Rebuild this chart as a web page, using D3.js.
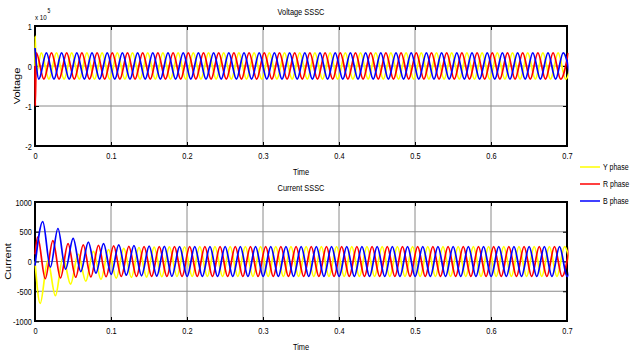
<!DOCTYPE html>
<html>
<head>
<meta charset="utf-8">
<script src="https://cdn.jsdelivr.net/npm/d3@7"></script>
<style>
  body { margin: 0; background: #fff; }
  svg { display: block; }
  text { font-family: "Liberation Sans", Arial, sans-serif; fill: #000; }
</style>
</head>
<body>
<script>
// ---- data ----
const xTicks = [0, 0.1, 0.2, 0.3, 0.4, 0.5, 0.6, 0.7];
const xTickLabels = ["0", "0.1", "0.2", "0.3", "0.4", "0.5", "0.6", "0.7"];
const voltTicks = [-2, -1, 0, 1];
const voltTickLabels = ["-2", "-1", "0", "1"];
const currTicks = [-1000, -500, 0, 500, 1000];
const currTickLabels = ["-1000", "-500", "0", "500", "1000"];

const phases = ["Y phase", "R phase", "B phase"];
const phaseColors = ["#ffff00", "#ff0000", "#0000ff"];

// extrema of each wave, one every half cycle (50 Hz)
const halfCycle = 0.01;

// voltage, x 10^5
const voltStartY = [[0, 0], [0.0003, 0.75], [0.0015, -0.2]];
const voltFirstY = 0.0083;
const voltPeaksY = [
  0.33, -0.33, 0.33, -0.33, 0.33, -0.33, 0.33, -0.33, 0.33, -0.33,
  0.33, -0.33, 0.33, -0.33, 0.33, -0.33, 0.33, -0.33, 0.33, -0.33,
  0.33, -0.33, 0.33, -0.33, 0.33, -0.33, 0.33, -0.33, 0.33, -0.33,
  0.33, -0.33, 0.33, -0.33, 0.33, -0.33, 0.33, -0.33, 0.33, -0.33,
  0.33, -0.33, 0.33, -0.33, 0.33, -0.33, 0.33, -0.33, 0.33, -0.33,
  0.33, -0.33, 0.33, -0.33, 0.33, -0.33, 0.33, -0.33, 0.33, -0.33,
  0.33, -0.33, 0.33, -0.33, 0.33, -0.33, 0.33, -0.33, 0.33, -0.33,
  0.33
];
const voltStartR = [[0, 0], [0.0004, -1.0]];
const voltFirstR = 0.0017;
const voltPeaksR = [
  0.33, -0.33, 0.33, -0.33, 0.33, -0.33, 0.33, -0.33, 0.33, -0.33,
  0.33, -0.33, 0.33, -0.33, 0.33, -0.33, 0.33, -0.33, 0.33, -0.33,
  0.33, -0.33, 0.33, -0.33, 0.33, -0.33, 0.33, -0.33, 0.33, -0.33,
  0.33, -0.33, 0.33, -0.33, 0.33, -0.33, 0.33, -0.33, 0.33, -0.33,
  0.33, -0.33, 0.33, -0.33, 0.33, -0.33, 0.33, -0.33, 0.33, -0.33,
  0.33, -0.33, 0.33, -0.33, 0.33, -0.33, 0.33, -0.33, 0.33, -0.33,
  0.33, -0.33, 0.33, -0.33, 0.33, -0.33, 0.33, -0.33, 0.33, -0.33,
  0.33
];
const voltStartB = [[0, 0.45]];
const voltFirstB = 0.005;
const voltPeaksB = [
  -0.33, 0.33, -0.33, 0.33, -0.33, 0.33, -0.33, 0.33, -0.33, 0.33,
  -0.33, 0.33, -0.33, 0.33, -0.33, 0.33, -0.33, 0.33, -0.33, 0.33,
  -0.33, 0.33, -0.33, 0.33, -0.33, 0.33, -0.33, 0.33, -0.33, 0.33,
  -0.33, 0.33, -0.33, 0.33, -0.33, 0.33, -0.33, 0.33, -0.33, 0.33,
  -0.33, 0.33, -0.33, 0.33, -0.33, 0.33, -0.33, 0.33, -0.33, 0.33,
  -0.33, 0.33, -0.33, 0.33, -0.33, 0.33, -0.33, 0.33, -0.33, 0.33,
  -0.33, 0.33, -0.33, 0.33, -0.33, 0.33, -0.33, 0.33, -0.33, 0.33,
  -0.33
];

// current
const currStartY = [[0, 0]];
const currFirstY = 0.0068;
const currPeaksY = [
  -705, 15, -575, 70, -380, 125, -330, 170, -300, 200,
  -280, 220, -268, 235, -260, 242, -255, 246, -252, 248,
  -250, 250, -250, 250, -250, 250, -250, 250, -250, 250,
  -250, 250, -250, 250, -250, 250, -250, 250, -250, 250,
  -250, 250, -250, 250, -250, 250, -250, 250, -250, 250,
  -250, 250, -250, 250, -250, 250, -250, 250, -250, 250,
  -250, 250, -250, 250, -250, 250, -250, 250, -250, 250,
  -250
];
const currStartR = [[0, 120]];
const currFirstR = 0.0035;
const currPeaksR = [
  410, -290, 350, -275, 300, -265, 280, -258, 270, -255,
  262, -252, 255, -250, 250, -250, 250, -250, 250, -250,
  250, -250, 250, -250, 250, -250, 250, -250, 250, -250,
  250, -250, 250, -250, 250, -250, 250, -250, 250, -250,
  250, -250, 250, -250, 250, -250, 250, -250, 250, -250,
  250, -250, 250, -250, 250, -250, 250, -250, 250, -250,
  250, -250, 250, -250, 250, -250, 250, -250, 250, -250,
  250
];
const currStartB = [[0, -70]];
const currFirstB = 0.0102;
const currPeaksB = [
  670, -95, 555, -130, 390, -170, 325, -195, 300, -215,
  280, -230, 268, -240, 258, -245, 254, -248, 250, -250,
  250, -250, 250, -250, 250, -250, 250, -250, 250, -250,
  250, -250, 250, -250, 250, -250, 250, -250, 250, -250,
  250, -250, 250, -250, 250, -250, 250, -250, 250, -250,
  250, -250, 250, -250, 250, -250, 250, -250, 250, -250,
  250, -250, 250, -250, 250, -250, 250, -250, 250, -250,
  250
];

// ---- layout ----
const width = 631, height = 353;
const left = 35, right = 567;
const squeeze = 0.78;   // the picture's text is narrow

const svg = d3.select("body").append("svg")
  .attr("width", width)
  .attr("height", height);

svg.append("rect").attr("width", width).attr("height", height).attr("fill", "#fff");

const x = d3.scaleLinear().domain([0, 0.7]).range([left, right]);

function label(g, px, py, s, size, anchor, vertical) {
  const tf = vertical
    ? `translate(${px},${py}) rotate(-90) scale(1,${squeeze})`
    : `translate(${px},${py}) scale(${squeeze},1)`;
  g.append("text")
    .attr("transform", tf)
    .attr("text-anchor", anchor)
    .attr("font-size", size)
    .text(s);
}

function toPoints(start, first, peaks) {
  return start.concat(peaks.map((v, i) => [first + i * halfCycle, v]));
}

function panel(opt) {
  const g = svg.append("g");
  const y = d3.scaleLinear().domain(opt.domain).range([opt.bottom, opt.top]);
  const h = opt.bottom - opt.top;

  // grid
  g.selectAll(".gx").data(xTicks).join("line")
    .attr("x1", d => x(d)).attr("x2", d => x(d))
    .attr("y1", opt.top).attr("y2", opt.bottom)
    .attr("stroke", "#8a8a8a").attr("stroke-width", 1);
  g.selectAll(".gy").data(opt.ticks).join("line")
    .attr("x1", left).attr("x2", right)
    .attr("y1", d => y(d)).attr("y2", d => y(d))
    .attr("stroke", "#8a8a8a").attr("stroke-width", 1);

  // box
  g.append("rect")
    .attr("x", left).attr("y", opt.top)
    .attr("width", right - left).attr("height", h)
    .attr("fill", "none").attr("stroke", "#000").attr("stroke-width", 2);

  // ticks, pointing inwards on all four sides
  const bottomAxis = g.append("g")
    .attr("transform", `translate(0,${opt.bottom})`)
    .call(d3.axisBottom(x).tickValues(xTicks)
      .tickFormat((d, i) => xTickLabels[i])
      .tickSize(-4).tickSizeOuter(0).tickPadding(6));
  const leftAxis = g.append("g")
    .attr("transform", `translate(${left},0)`)
    .call(d3.axisLeft(y).tickValues(opt.ticks)
      .tickFormat((d, i) => opt.tickLabels[i])
      .tickSize(-4).tickSizeOuter(0).tickPadding(4));
  g.append("g")
    .attr("transform", `translate(0,${opt.top})`)
    .call(d3.axisTop(x).tickValues(xTicks).tickFormat("")
      .tickSize(-4).tickSizeOuter(0));
  g.append("g")
    .attr("transform", `translate(${right},0)`)
    .call(d3.axisRight(y).tickValues(opt.ticks).tickFormat("")
      .tickSize(-4).tickSizeOuter(0));
  g.selectAll(".domain").remove();
  g.selectAll(".tick line").attr("stroke", "#000");
  [bottomAxis, leftAxis].forEach(a => {
    a.attr("font-family", null).attr("font-size", null);
    a.selectAll("text")
      .attr("font-size", 9.5)
      .attr("transform", `scale(${squeeze},1)`);
  });

  // titles
  label(g, (left + right) / 2, opt.top - 11, opt.title, 9.5, "middle", false);
  label(g, (left + right) / 2, opt.bottom + 29, "Time", 9.5, "middle", false);
  label(g, opt.ylabelX, (opt.top + opt.bottom) / 2, opt.ylabel, 11, "middle", true);

  // waves
  const clipId = "clip-" + opt.ylabel;
  svg.append("clipPath").attr("id", clipId)
    .append("rect")
    .attr("x", left - 1.5).attr("y", opt.top - 1)
    .attr("width", right - left + 3).attr("height", h + 2);

  const line = d3.line()
    .x(d => x(d[0]))
    .y(d => y(d[1]))
    .curve(d3.curveMonotoneX);

  g.append("g").attr("clip-path", `url(#${clipId})`)
    .selectAll("path")
    .data(opt.series)
    .join("path")
    .attr("d", d => line(d))
    .attr("fill", "none")
    .attr("stroke", (d, i) => phaseColors[i])
    .attr("stroke-width", 1.7);

  return g;
}

const voltPanel = panel({
  domain: [-2, 1], top: 26, bottom: 146,
  ticks: voltTicks, tickLabels: voltTickLabels,
  title: "Voltage  SSSC", ylabel: "Voltage", ylabelX: 20,
  series: [
    toPoints(voltStartY, voltFirstY, voltPeaksY),
    toPoints(voltStartR, voltFirstR, voltPeaksR),
    toPoints(voltStartB, voltFirstB, voltPeaksB)
  ]
});

// exponent label of the voltage axis
label(voltPanel, 35, 20, "x 10", 8, "start", false);
label(voltPanel, 47.5, 13, "5", 6.5, "start", false);

panel({
  domain: [-1000, 1000], top: 202, bottom: 321,
  ticks: currTicks, tickLabels: currTickLabels,
  title: "Current SSSC", ylabel: "Current", ylabelX: 11,
  series: [
    toPoints(currStartY, currFirstY, currPeaksY),
    toPoints(currStartR, currFirstR, currPeaksR),
    toPoints(currStartB, currFirstB, currPeaksB)
  ]
});

// legend
const legend = svg.append("g");
phases.forEach((p, i) => {
  const ly = 167 + i * 17;
  legend.append("line")
    .attr("x1", 580).attr("x2", 600)
    .attr("y1", ly).attr("y2", ly)
    .attr("stroke", phaseColors[i]).attr("stroke-width", 1.5);
  label(legend, 603, ly + 3, p, 9, "start", false);
});
</script>
</body>
</html>
